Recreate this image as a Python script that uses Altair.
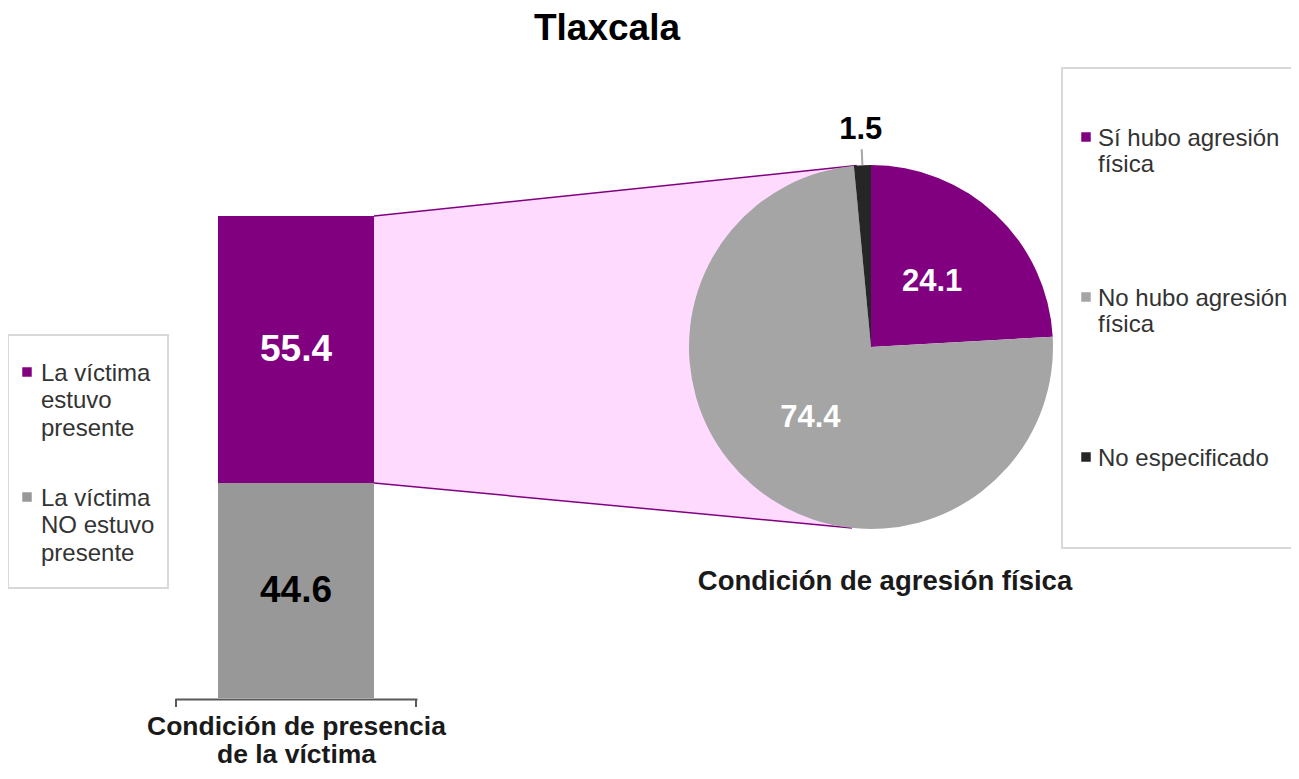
import math
import altair as alt

# ---------------- data ----------------
title_text = "Tlaxcala"

presence_cats = ["La víctima estuvo presente", "La víctima NO estuvo presente"]
presence_vals = [55.4, 44.6]
presence_colors = ["#800080", "#989898"]
presence_label_colors = ["#FFFFFF", "#000000"]
presence_legend = [["La víctima", "estuvo", "presente"], ["La víctima", "NO estuvo", "presente"]]
bar_axis_title = ["Condición de presencia", "de la víctima"]

aggr_cats = ["Sí hubo agresión física", "No hubo agresión física", "No especificado"]
aggr_vals = [24.1, 74.4, 1.5]
aggr_colors = ["#800080", "#A5A5A5", "#262626"]
aggr_label_colors = ["#FFFFFF", "#FFFFFF", "#000000"]
aggr_legend = [["Sí hubo agresión", "física"], ["No hubo agresión", "física"], ["No especificado"]]
pie_axis_title = "Condición de agresión física"

# ---------------- layout ----------------
FONT = "Liberation Sans"
PT = 56
W, H = 1283, 704


def X(sx):
    return sx - 8


def Y(sy):
    return sy - 8 - PT


# bar scales
bx0, bx1 = X(175), X(417)
b_pad = 0.2756
b_step = (bx1 - bx0) / (1 + 2 * b_pad)
bar_left = bx0 + b_pad * b_step
bar_right = bar_left + b_step
by_bottom, by_top = Y(698), Y(216)
bar_x_scale = alt.Scale(range=[bx0, bx1], paddingInner=0, paddingOuter=b_pad)
bar_y_scale = alt.Scale(domain=[0, 100], range=[by_bottom, by_top])


def bar_y(v):
    return by_bottom + (by_top - by_bottom) * v / 100.0


# pie geometry
cx, cy, R = X(871), Y(347), 182
pie_label_r = [89, 93, 217]
theta_scale = alt.Scale(domain=[0, 100], range=[0, 2 * math.pi])


def polar(angle_deg, r):
    a = math.radians(angle_deg)
    return cx + r * math.sin(a), cy - r * math.cos(a)


# ---------------- bar ----------------
bar_rows = []
order = [1, 0]  # NO estuvo at the bottom
for i, (c, v) in enumerate(zip(presence_cats, presence_vals)):
    bar_rows.append({"grp": "presencia", "cat": c, "val": v, "ord": order[i],
                     "tc": presence_label_colors[i]})
start = 0.0
for r in sorted(bar_rows, key=lambda d: d["ord"]):
    r["mid"] = start + r["val"] / 2
    start += r["val"]

bar = alt.Chart(alt.Data(values=bar_rows)).mark_bar().encode(
    x=alt.X("grp:N", scale=bar_x_scale,
            axis=alt.Axis(orient="bottom", offset=Y(699) - H, labels=False, ticks=False,
                          domain=True, domainColor="#595959", domainWidth=2,
                          title=bar_axis_title, titleFont=FONT, titleFontSize=26.5,
                          titleFontWeight="bold", titleColor="#1A1A1A",
                          titleLineHeight=28, titlePadding=14)),
    y=alt.Y("val:Q", stack="zero", scale=bar_y_scale, axis=None),
    color=alt.Color("cat:N", scale=alt.Scale(domain=presence_cats, range=presence_colors), legend=None),
    order=alt.Order("ord:Q"),
)

bar_text = alt.Chart(alt.Data(values=bar_rows)).mark_text(
    font=FONT, fontSize=37, fontWeight="bold", align="center", baseline="middle"
).encode(
    x=alt.X("grp:N", scale=bar_x_scale, axis=None),
    y=alt.Y("mid:Q", scale=bar_y_scale, axis=None),
    text=alt.Text("val:Q", format=".1f"),
    color=alt.Color("tc:N", scale=None),
)

tick_rows = [{"x": bx0 + 1, "y": Y(699), "y2": Y(707)},
             {"x": bx1 - 1, "y": Y(699), "y2": Y(707)}]
axis_ticks = alt.Chart(alt.Data(values=tick_rows)).mark_rule(color="#595959", strokeWidth=2).encode(
    x=alt.X("x:Q", scale=None), y=alt.Y("y:Q", scale=None), y2="y2:Q")

# ---------------- connectors ----------------
up_x, up_y = polar(355.5, R)
lo_x, lo_y = polar(186.0, R)
top_y = bar_y(100)
bnd_y = bar_y(presence_vals[1])
xe = min(up_x, lo_x)
up_at = top_y + (up_y - top_y) * (xe - bar_right) / (up_x - bar_right)
lo_at = bnd_y + (lo_y - bnd_y) * (xe - bar_right) / (lo_x - bar_right)
area_rows = [{"x": bar_right, "y": top_y, "y2": bnd_y}, {"x": xe, "y": up_at, "y2": lo_at}]
pink = alt.Chart(alt.Data(values=area_rows)).mark_area(color="#FFDAFF", opacity=1).encode(
    x=alt.X("x:Q", scale=None), y=alt.Y("y:Q", scale=None), y2="y2:Q")

line_rows = [{"x": bar_right, "y": top_y, "x2": up_x, "y2": up_y},
             {"x": bar_right, "y": bnd_y, "x2": lo_x, "y2": lo_y}]
lines = alt.Chart(alt.Data(values=line_rows)).mark_rule(color="#800080", strokeWidth=1.5).encode(
    x=alt.X("x:Q", scale=None), y=alt.Y("y:Q", scale=None), x2="x2:Q", y2="y2:Q")

# ---------------- pie ----------------
pie_rows = []
acc = 0.0
for i, (c, v) in enumerate(zip(aggr_cats, aggr_vals)):
    pie_rows.append({"cat": c, "val": v, "ord": i, "lr": pie_label_r[i], "mid": acc + v / 2})
    acc += v

arc = alt.Chart(alt.Data(values=pie_rows)).mark_arc(radius=R).encode(
    theta=alt.Theta("val:Q", stack=True, scale=theta_scale),
    color=alt.Color("cat:N", scale=alt.Scale(domain=aggr_cats, range=aggr_colors), legend=None),
    order=alt.Order("ord:Q"),
    x=alt.value(cx), y=alt.value(cy),
)
arc_text = alt.Chart(alt.Data(values=pie_rows)).mark_text(
    font=FONT, fontSize=31, fontWeight="bold", align="center", baseline="middle"
).encode(
    theta=alt.Theta("mid:Q", stack=None, scale=theta_scale),
    radius=alt.Radius("lr:Q", scale=None),
    text=alt.Text("val:Q", format=".1f"),
    color=alt.Color("cat:N", scale=alt.Scale(domain=aggr_cats, range=aggr_label_colors), legend=None),
    x=alt.value(cx), y=alt.value(cy),
)
pie = alt.layer(arc, arc_text).resolve_scale(color="independent")

mid_black = pie_rows[2]["mid"] * 3.6
l1 = polar(mid_black, R)
l2 = polar(mid_black, R + 16)
leader = alt.Chart(alt.Data(values=[{"x": l1[0], "y": l1[1], "x2": l2[0], "y2": l2[1]}])).mark_rule(
    color="#A6A6A6", strokeWidth=2).encode(
    x=alt.X("x:Q", scale=None), y=alt.Y("y:Q", scale=None), x2="x2:Q", y2="y2:Q")

pie_title = alt.Chart(alt.Data(values=[{"x": X(885), "y": Y(582), "t": pie_axis_title}])).mark_text(
    font=FONT, fontSize=27.5, fontWeight="bold", color="#1A1A1A", align="center", baseline="middle"
).encode(x=alt.X("x:Q", scale=None), y=alt.Y("y:Q", scale=None), text="t:N")

# ---------------- legends ----------------
box_rows = [{"x": X(8), "x2": X(168), "y": Y(335), "y2": Y(588)},
            {"x": X(1062), "x2": X(1330), "y": Y(68), "y2": Y(548)}]
boxes = alt.Chart(alt.Data(values=box_rows)).mark_rect(
    fill="#FFFFFF", stroke="#D9D9D9", strokeWidth=2).encode(
    x=alt.X("x:Q", scale=None), x2="x2:Q", y=alt.Y("y:Q", scale=None), y2="y2:Q")

LFS = 24
left_sym_y = [Y(372), Y(497)]
right_sym_y = [Y(137), Y(297), Y(457)]
leg_left_rows = [{"cat": c, "sx": X(27), "sy": left_sym_y[i], "tx": X(41),
                  "ty": left_sym_y[i] + 8.5, "t": "\n".join(presence_legend[i])}
                 for i, c in enumerate(presence_cats)]
leg_right_rows = [{"cat": c, "sx": X(1086), "sy": right_sym_y[i], "tx": X(1098),
                   "ty": right_sym_y[i] + 8.5, "t": "\n".join(aggr_legend[i])}
                  for i, c in enumerate(aggr_cats)]


def legend_layers(rows, cats, colors, lh):
    sym = alt.Chart(alt.Data(values=rows)).mark_square(size=90, opacity=1).encode(
        x=alt.X("sx:Q", scale=None), y=alt.Y("sy:Q", scale=None),
        color=alt.Color("cat:N", scale=alt.Scale(domain=cats, range=colors), legend=None))
    txt = alt.Chart(alt.Data(values=rows)).mark_text(
        font=FONT, fontSize=LFS, color="#333333", align="left", baseline="alphabetic",
        lineBreak="\n", lineHeight=lh).encode(
        x=alt.X("tx:Q", scale=None), y=alt.Y("ty:Q", scale=None), text="t:N")
    return sym, txt


ls, lt = legend_layers(leg_left_rows, presence_cats, presence_colors, 27.5)
rs, rt = legend_layers(leg_right_rows, aggr_cats, aggr_colors, 26.5)

chart = alt.layer(
    pink, lines, bar, bar_text, axis_ticks, pie, leader, pie_title,
    boxes, ls, lt, rs, rt,
).resolve_scale(
    x="independent", y="independent", color="independent"
).properties(
    width=W, height=H,
    padding={"left": 0, "top": PT, "right": 0, "bottom": 0},
    autosize=alt.AutoSizeParams(type="none"),
    title=alt.TitleParams(text=title_text, font=FONT, fontSize=37, fontWeight="bold",
                          color="#000000", anchor="middle", frame="group",
                          dx=X(607) - W / 2, offset=16),
).configure_view(stroke=None)

chart.save("out.html", embed_options={"renderer": "svg", "actions": False})
